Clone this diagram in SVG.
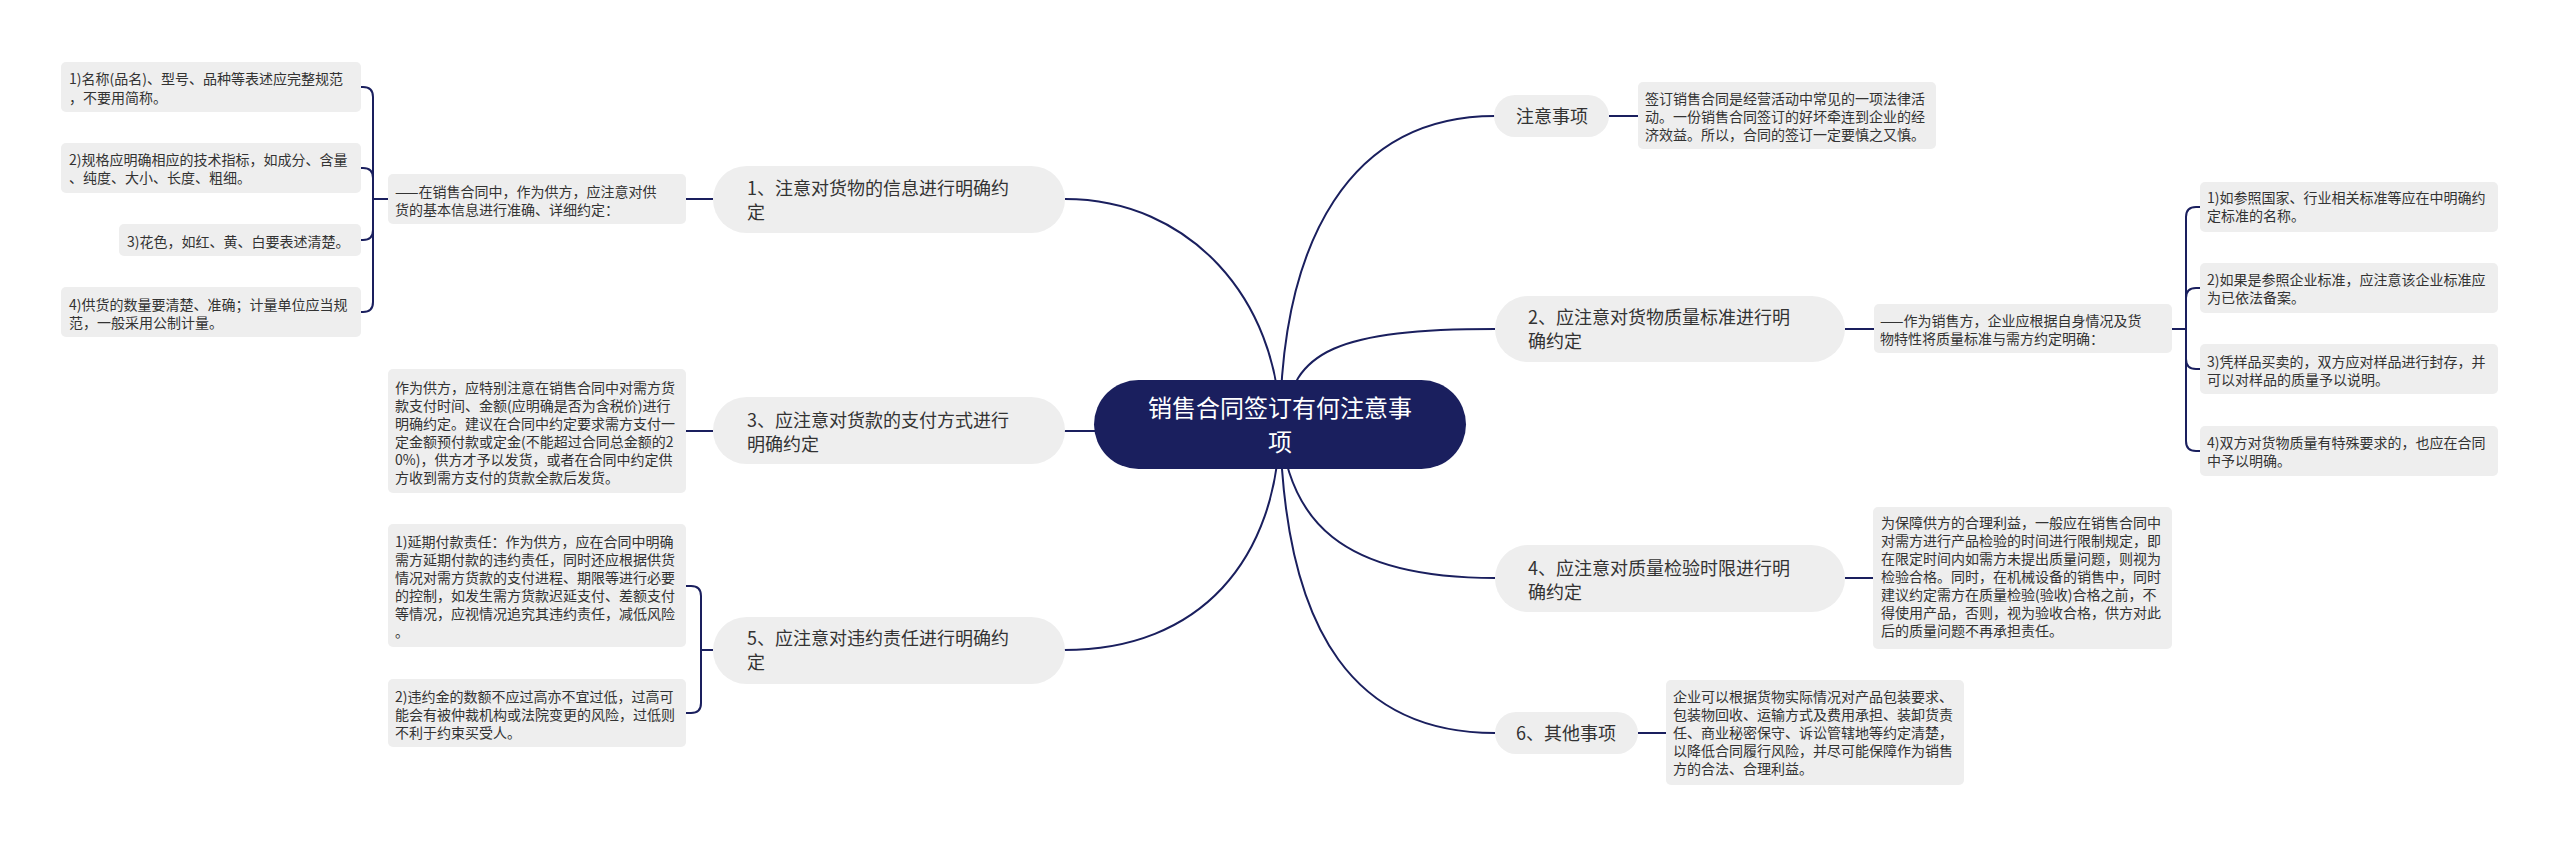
<svg xmlns="http://www.w3.org/2000/svg" width="2560" height="847" viewBox="0 0 2560 847">
<style>
text{font-family:"Noto Sans CJK SC","Liberation Sans",sans-serif;}
.pill{fill:#eeeeee;}
.box{fill:#eeeeee;}
.t14{font-size:14px;fill:#333333;}
.t18{font-size:18px;fill:#333333;}
.root{fill:#1a1f5e;}
.rt{font-size:24px;fill:#ffffff;text-anchor:middle;}
.mid{text-anchor:middle;}
.conn{stroke:#1a1f5e;stroke-width:2;fill:none;}
</style>
<rect width="2560" height="847" fill="#ffffff"/>
<g id="connectors">
<path class="conn" d="M1280,424 C1282,240 1350,116 1495,116"/>
<path class="conn" d="M1285,424 C1290,350 1340,329 1495,329"/>
<path class="conn" d="M1280,424 C1288,520 1340,578 1495,578"/>
<path class="conn" d="M1280,424 C1284,640 1360,733 1495,733"/>
<path class="conn" d="M1280,424 C1278,300 1190,199 1065,199"/>
<path class="conn" d="M1100,431 H1064"/>
<path class="conn" d="M1280,424 C1278,560 1200,650 1064,650"/>
<path class="conn" d="M1609,116 H1638"/>
<path class="conn" d="M1845,329 H1874"/>
<path class="conn" d="M1845,578 H1873"/>
<path class="conn" d="M1638,733 H1666"/>
<path class="conn" d="M713,199 H686"/>
<path class="conn" d="M713,431 H686"/>
<path class="conn" d="M713,650 H701"/>
<path class="conn" d="M388,199 H373"/>
<path class="conn" d="M373,199 V97 Q373,87 363,87 H361"/>
<path class="conn" d="M373,199 V178 Q373,168 363,168 H361"/>
<path class="conn" d="M373,199 V230 Q373,240 363,240 H361"/>
<path class="conn" d="M373,199 V302 Q373,312 363,312 H361"/>
<path class="conn" d="M2172,329 H2186"/>
<path class="conn" d="M2186,329 V217 Q2186,207 2196,207 H2200"/>
<path class="conn" d="M2186,329 V298 Q2186,288 2196,288 H2200"/>
<path class="conn" d="M2186,329 V359 Q2186,369 2196,369 H2200"/>
<path class="conn" d="M2186,329 V441 Q2186,451 2196,451 H2200"/>
<path class="conn" d="M701,650 V596 Q701,586 691,586 H686"/>
<path class="conn" d="M701,650 V703 Q701,713 691,713 H686"/>
</g>
<g id="root">
<rect class="root" x="1094" y="380" width="372" height="89" rx="44.5"/>
<text class="rt" x="1280" y="417">销售合同签订有何注意事</text>
<text class="rt" x="1280" y="451">项</text>
</g>
<g id="n1">
<rect class="pill" x="713" y="166" width="352" height="67" rx="33.5"/>
<text class="t18" x="747" y="195">1、注意对货物的信息进行明确约</text>
<text class="t18" x="747" y="219">定</text>
</g>
<g id="n1-desc">
<rect class="box" x="388" y="174" width="298" height="50" rx="5"/>
<text class="t14" x="395" y="197">——在销售合同中，作为供方，应注意对供</text>
<text class="t14" x="395" y="215">货的基本信息进行准确、详细约定：</text>
</g>
<g id="n1-l1">
<rect class="box" x="61" y="62" width="300" height="50" rx="5"/>
<text class="t14" x="69" y="84">1)名称(品名)、型号、品种等表述应完整规范</text>
<text class="t14" x="69" y="103">，不要用简称。</text>
</g>
<g id="n1-l2">
<rect class="box" x="61" y="143" width="300" height="50" rx="5"/>
<text class="t14" x="69" y="165">2)规格应明确相应的技术指标，如成分、含量</text>
<text class="t14" x="69" y="183">、纯度、大小、长度、粗细。</text>
</g>
<g id="n1-l3">
<rect class="box" x="119" y="224" width="242" height="32" rx="5"/>
<text class="t14" x="127" y="247">3)花色，如红、黄、白要表述清楚。</text>
</g>
<g id="n1-l4">
<rect class="box" x="61" y="287" width="300" height="50" rx="5"/>
<text class="t14" x="69" y="310">4)供货的数量要清楚、准确；计量单位应当规</text>
<text class="t14" x="69" y="328">范，一般采用公制计量。</text>
</g>
<g id="n3">
<rect class="pill" x="713" y="397" width="352" height="67" rx="33.5"/>
<text class="t18" x="747" y="427">3、应注意对货款的支付方式进行</text>
<text class="t18" x="747" y="451">明确约定</text>
</g>
<g id="n3-l1">
<rect class="box" x="388" y="369" width="298" height="124" rx="5"/>
<text class="t14" x="395" y="393">作为供方，应特别注意在销售合同中对需方货</text>
<text class="t14" x="395" y="411">款支付时间、金额(应明确是否为含税价)进行</text>
<text class="t14" x="395" y="429">明确约定。建议在合同中约定要求需方支付一</text>
<text class="t14" x="395" y="447">定金额预付款或定金(不能超过合同总金额的2</text>
<text class="t14" x="395" y="465">0%)，供方才予以发货，或者在合同中约定供</text>
<text class="t14" x="395" y="483">方收到需方支付的货款全款后发货。</text>
</g>
<g id="n5">
<rect class="pill" x="713" y="617" width="352" height="67" rx="33.5"/>
<text class="t18" x="747" y="645">5、应注意对违约责任进行明确约</text>
<text class="t18" x="747" y="669">定</text>
</g>
<g id="n5-l1">
<rect class="box" x="388" y="524" width="298" height="123" rx="5"/>
<text class="t14" x="395" y="547">1)延期付款责任：作为供方，应在合同中明确</text>
<text class="t14" x="395" y="565">需方延期付款的违约责任，同时还应根据供货</text>
<text class="t14" x="395" y="583">情况对需方货款的支付进程、期限等进行必要</text>
<text class="t14" x="395" y="601">的控制，如发生需方货款迟延支付、差额支付</text>
<text class="t14" x="395" y="619">等情况，应视情况追究其违约责任，减低风险</text>
<text class="t14" x="395" y="637">。</text>
</g>
<g id="n5-l2">
<rect class="box" x="388" y="679" width="298" height="68" rx="5"/>
<text class="t14" x="395" y="702">2)违约金的数额不应过高亦不宜过低，过高可</text>
<text class="t14" x="395" y="720">能会有被仲裁机构或法院变更的风险，过低则</text>
<text class="t14" x="395" y="738">不利于约束买受人。</text>
</g>
<g id="n0">
<rect class="pill" x="1494" y="95" width="115" height="42" rx="21"/>
<text class="t18 mid" x="1552" y="123">注意事项</text>
</g>
<g id="n0-l1">
<rect class="box" x="1638" y="82" width="298" height="67" rx="5"/>
<text class="t14" x="1645" y="104">签订销售合同是经营活动中常见的一项法律活</text>
<text class="t14" x="1645" y="122">动。一份销售合同签订的好坏牵连到企业的经</text>
<text class="t14" x="1645" y="140">济效益。所以，合同的签订一定要慎之又慎。</text>
</g>
<g id="n2">
<rect class="pill" x="1495" y="296" width="350" height="66" rx="33"/>
<text class="t18" x="1528" y="324">2、应注意对货物质量标准进行明</text>
<text class="t18" x="1528" y="348">确约定</text>
</g>
<g id="n2-desc">
<rect class="box" x="1874" y="304" width="298" height="49" rx="5"/>
<text class="t14" x="1880" y="326">——作为销售方，企业应根据自身情况及货</text>
<text class="t14" x="1880" y="344">物特性将质量标准与需方约定明确：</text>
</g>
<g id="n2-l1">
<rect class="box" x="2200" y="182" width="298" height="50" rx="5"/>
<text class="t14" x="2207" y="203">1)如参照国家、行业相关标准等应在中明确约</text>
<text class="t14" x="2207" y="221">定标准的名称。</text>
</g>
<g id="n2-l2">
<rect class="box" x="2200" y="263" width="298" height="50" rx="5"/>
<text class="t14" x="2207" y="285">2)如果是参照企业标准，应注意该企业标准应</text>
<text class="t14" x="2207" y="303">为已依法备案。</text>
</g>
<g id="n2-l3">
<rect class="box" x="2200" y="344" width="298" height="50" rx="5"/>
<text class="t14" x="2207" y="367">3)凭样品买卖的，双方应对样品进行封存，并</text>
<text class="t14" x="2207" y="385">可以对样品的质量予以说明。</text>
</g>
<g id="n2-l4">
<rect class="box" x="2200" y="426" width="298" height="50" rx="5"/>
<text class="t14" x="2207" y="448">4)双方对货物质量有特殊要求的，也应在合同</text>
<text class="t14" x="2207" y="466">中予以明确。</text>
</g>
<g id="n4">
<rect class="pill" x="1495" y="545" width="350" height="67" rx="33.5"/>
<text class="t18" x="1528" y="575">4、应注意对质量检验时限进行明</text>
<text class="t18" x="1528" y="599">确约定</text>
</g>
<g id="n4-l1">
<rect class="box" x="1873" y="507" width="299" height="142" rx="5"/>
<text class="t14" x="1881" y="528">为保障供方的合理利益，一般应在销售合同中</text>
<text class="t14" x="1881" y="546">对需方进行产品检验的时间进行限制规定，即</text>
<text class="t14" x="1881" y="564">在限定时间内如需方未提出质量问题，则视为</text>
<text class="t14" x="1881" y="582">检验合格。同时，在机械设备的销售中，同时</text>
<text class="t14" x="1881" y="600">建议约定需方在质量检验(验收)合格之前，不</text>
<text class="t14" x="1881" y="618">得使用产品，否则，视为验收合格，供方对此</text>
<text class="t14" x="1881" y="636">后的质量问题不再承担责任。</text>
</g>
<g id="n6">
<rect class="pill" x="1495" y="712" width="143" height="42" rx="21"/>
<text class="t18 mid" x="1566" y="740">6、其他事项</text>
</g>
<g id="n6-l1">
<rect class="box" x="1666" y="680" width="298" height="105" rx="5"/>
<text class="t14" x="1673" y="702">企业可以根据货物实际情况对产品包装要求、</text>
<text class="t14" x="1673" y="720">包装物回收、运输方式及费用承担、装卸货责</text>
<text class="t14" x="1673" y="738">任、商业秘密保守、诉讼管辖地等约定清楚，</text>
<text class="t14" x="1673" y="756">以降低合同履行风险，并尽可能保障作为销售</text>
<text class="t14" x="1673" y="774">方的合法、合理利益。</text>
</g>
</svg>
